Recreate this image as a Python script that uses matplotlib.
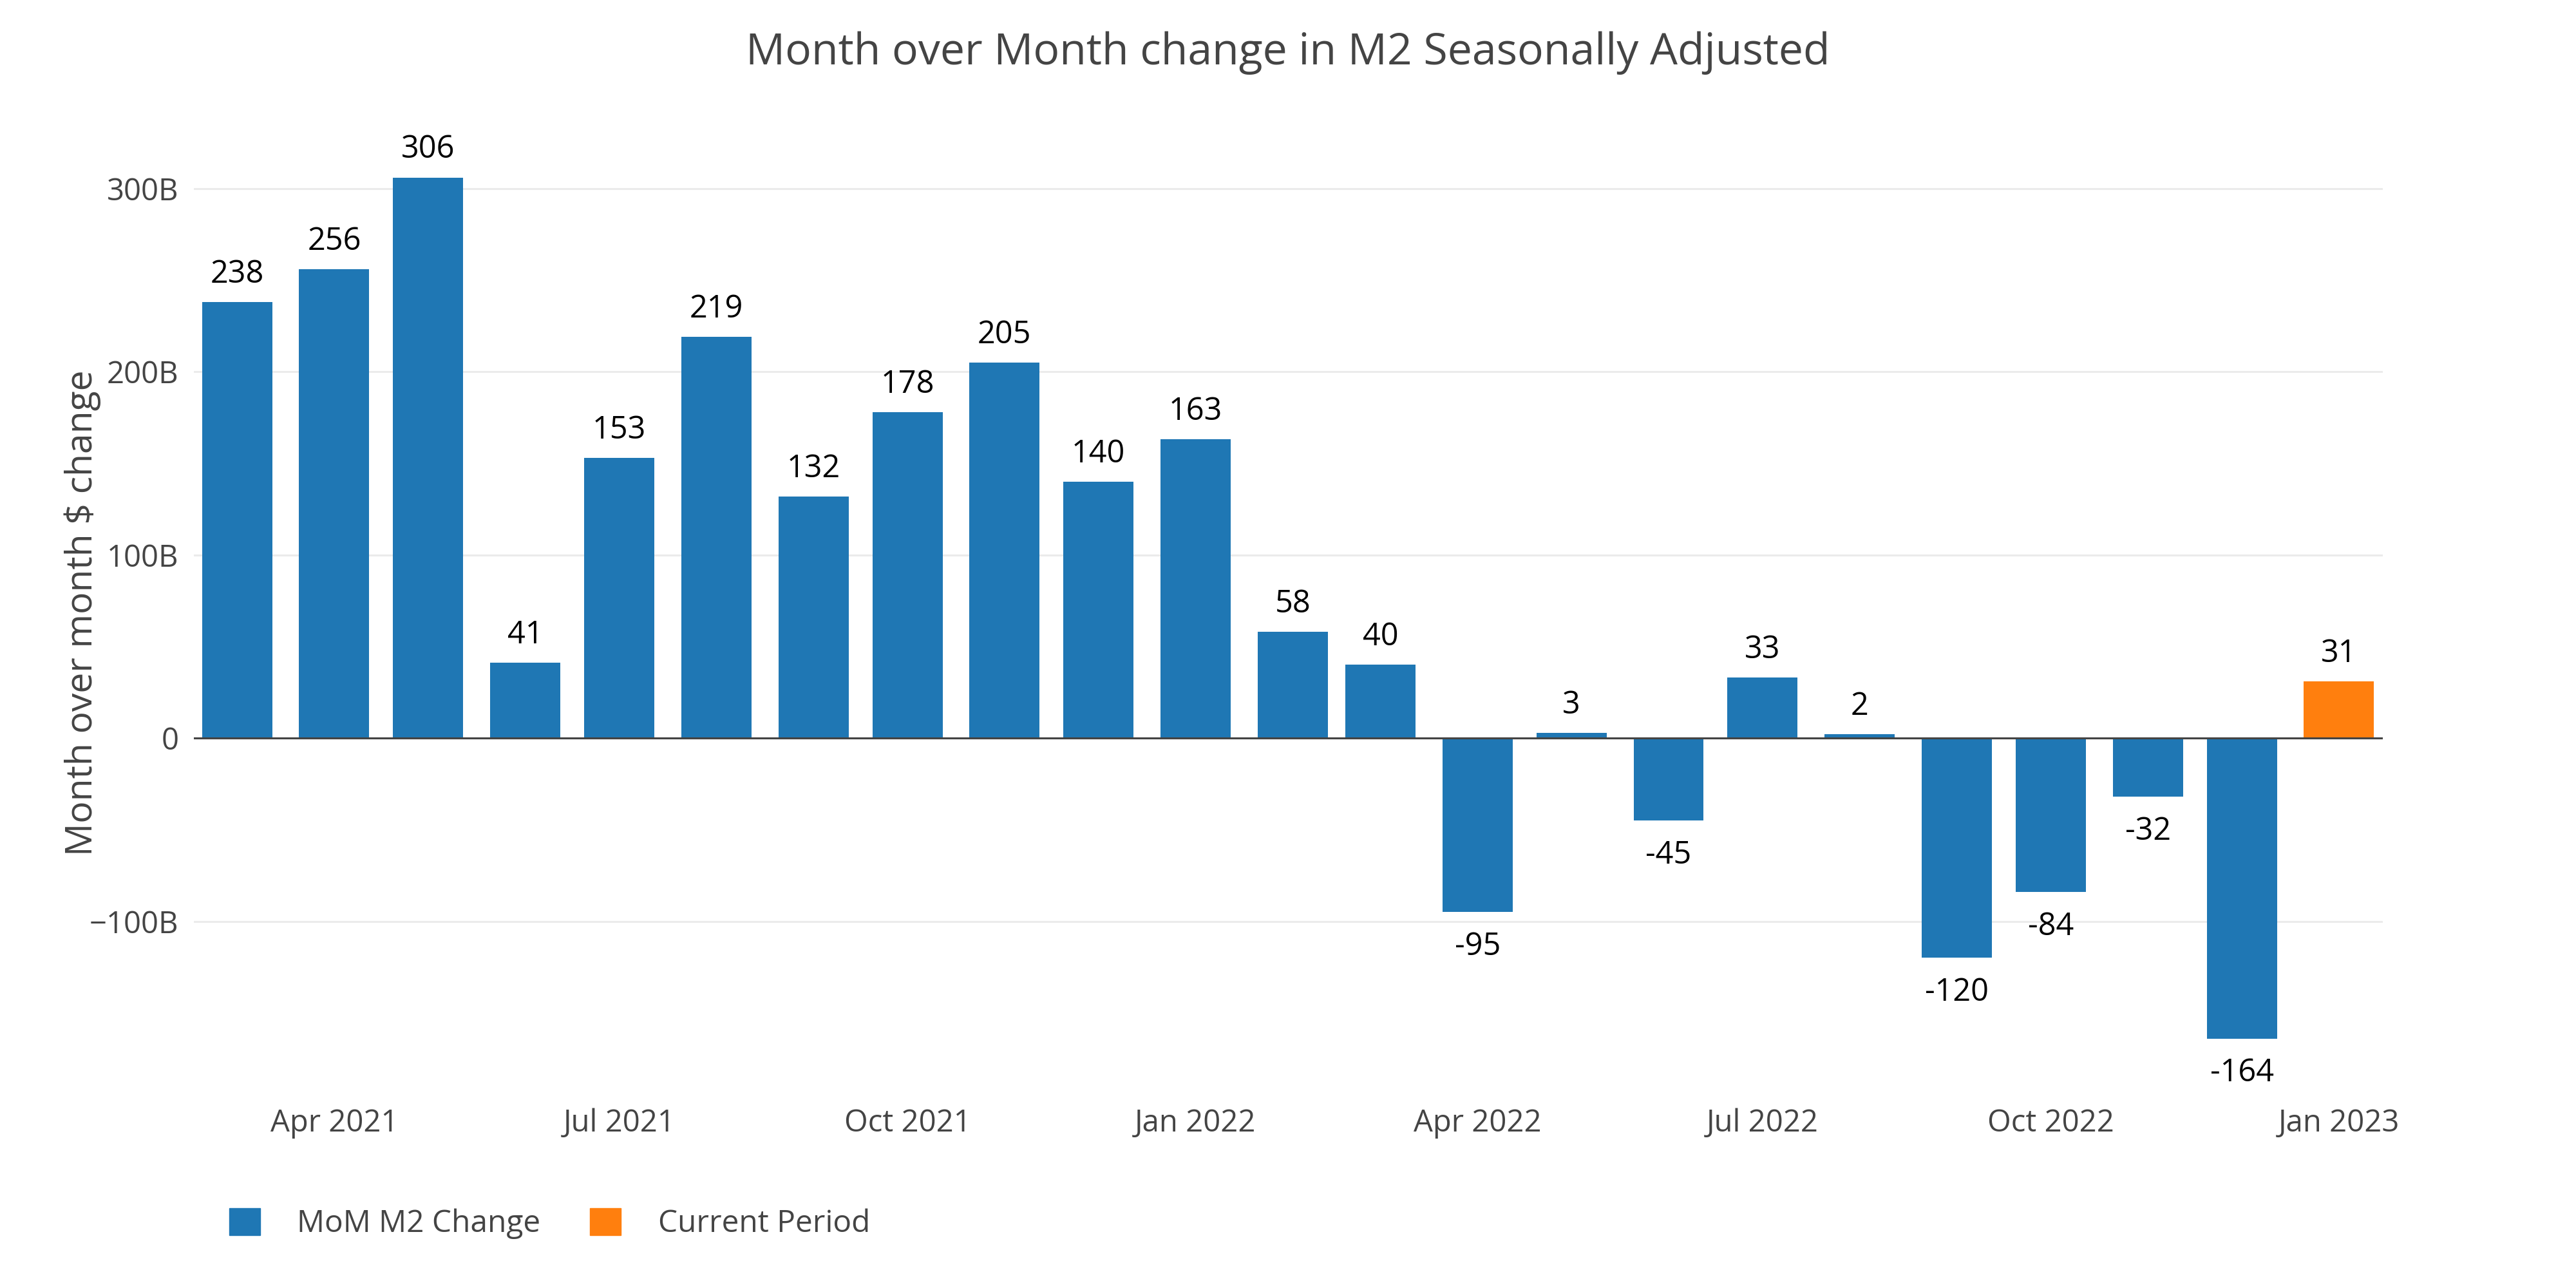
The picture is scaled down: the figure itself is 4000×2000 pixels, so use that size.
import numpy as np
import pandas as pd
import matplotlib
matplotlib.use("Agg")
import matplotlib.pyplot as plt
import matplotlib.dates as mdates
from matplotlib.patches import Patch
from matplotlib.ticker import FuncFormatter

plt.rcParams['font.family'] = ['Open Sans', 'DejaVu Sans']

# data (billions of dollars, month over month change in M2)
months = ['2021-03-01', '2021-04-01', '2021-05-01', '2021-06-01', '2021-07-01',
          '2021-08-01', '2021-09-01', '2021-10-01', '2021-11-01', '2021-12-01',
          '2022-01-01', '2022-02-01', '2022-03-01', '2022-04-01', '2022-05-01',
          '2022-06-01', '2022-07-01', '2022-08-01', '2022-09-01', '2022-10-01',
          '2022-11-01', '2022-12-01', '2023-01-01']
mom_change = [238, 256, 306, 41, 153, 219, 132, 178, 205, 140, 163, 58, 40,
              -95, 3, -45, 33, 2, -120, -84, -32, -164, 31]
series_names = ['MoM M2 Change', 'Current Period']

dates = pd.to_datetime(months)
x = mdates.date2num(dates)
vals = np.array(mom_change)

blue = '#1f77b4'
orange = '#ff7f0e'
grey = '#444444'

fig = plt.figure(figsize=(40, 20), dpi=100)
ax = fig.add_axes([0.07525, 0.15, 0.84975, 0.7475])

width = 0.8 * 28  # days
ax.bar(x[:-1], vals[:-1], width=width, color=blue, zorder=2)
ax.bar(x[-1:], vals[-1:], width=width, color=orange, zorder=2)

# bar value labels
for xi, v in zip(x, vals):
    if v >= 0:
        ax.annotate(str(v), (xi, v), xytext=(0, 13), textcoords='offset points',
                    ha='center', va='bottom', fontsize=35, color='black')
    else:
        ax.annotate(str(v), (xi, v), xytext=(0, -21), textcoords='offset points',
                    ha='center', va='top', fontsize=35, color='black')

ax.set_xlim(x[0] - 13.8, x[-1] + 14)
ax.set_ylim(-194.7, 330.8)

ax.set_yticks([-100, 0, 100, 200, 300])
ax.yaxis.set_major_formatter(FuncFormatter(
    lambda v, p: '0' if v == 0 else ('\u2212' if v < 0 else '') + f'{abs(int(v))}B'))
ax.xaxis.set_major_locator(mdates.MonthLocator(bymonth=[1, 4, 7, 10]))
ax.xaxis.set_major_formatter(mdates.DateFormatter('%b %Y'))

ax.grid(axis='y', color='#ebebeb', linewidth=2.2, zorder=0)
ax.set_axisbelow(True)
ax.axhline(0, color=grey, linewidth=2.2, zorder=3)

for s in ax.spines.values():
    s.set_visible(False)
ax.tick_params(axis='both', length=0, labelsize=34, labelcolor=grey)
ax.tick_params(axis='y', pad=17)
ax.tick_params(axis='x', pad=15)

fig.text(0.5, 1 - 100 / 2000, 'Month over Month change in M2 Seasonally Adjusted',
         ha='center', va='baseline', fontsize=49, color=grey)
fig.text(128 / 4000, 1 - 952 / 2000, 'Month over month $ change',
         rotation=90, ha='center', va='center', fontsize=41, color=grey)

handles = [Patch(color=blue), Patch(color=orange)]
fig.legend(handles, series_names, loc='center left',
           bbox_to_anchor=(356 / 4000, 1 - 1900 / 2000), ncol=2, frameon=False,
           fontsize=34.5, labelcolor=grey, handlelength=1.0, handleheight=1.0,
           handletextpad=1.2, columnspacing=1.6, borderpad=0, borderaxespad=0)

fig.savefig('out.png', dpi=100, facecolor='white')
